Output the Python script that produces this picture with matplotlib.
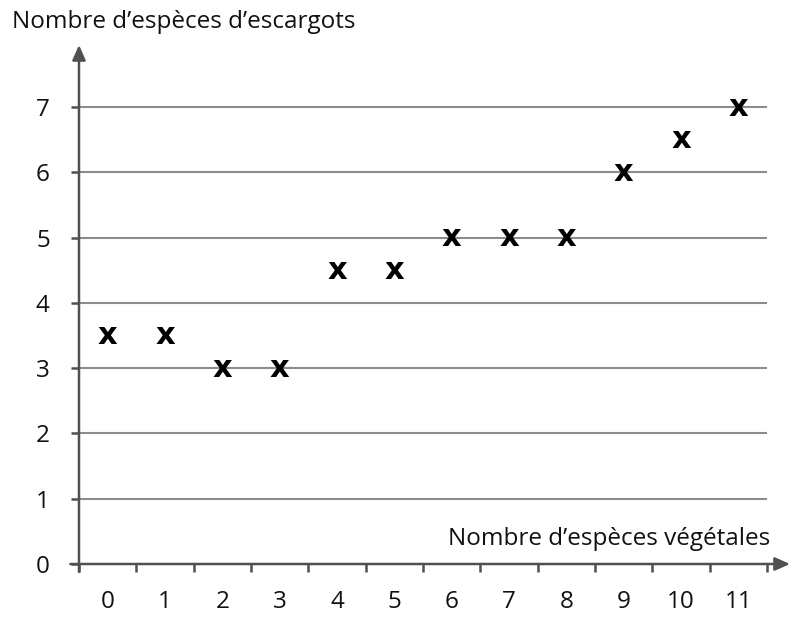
import matplotlib.pyplot as plt
import numpy as np

plt.rcParams['font.family'] = ['Open Sans', 'DejaVu Sans']

# data
vegetal = [0, 1, 2, 3, 4, 5, 6, 7, 8, 9, 10, 11]
escargots = [3.5, 3.5, 3, 3, 4.5, 4.5, 5, 5, 5, 6, 6.5, 7]
y_ticks = [0, 1, 2, 3, 4, 5, 6, 7]

axis_col = '#505050'
grid_col = '#8c8c8c'

fig = plt.figure(figsize=(7.93, 6.23), dpi=100)
ax = fig.add_axes([79 / 793, 59 / 623, (790 - 79) / 793, (564 - 45) / 623])
ax.set_xlim(0, 12.4)
ax.set_ylim(0, 7.95)

for s in ax.spines.values():
    s.set_visible(False)

# horizontal grid lines
ax.hlines(y_ticks[1:], 0, len(vegetal), color=grid_col, lw=1.5, zorder=1)

# axes with arrows
ax.annotate('', xy=(12.4, 0), xytext=(-0.15, 0), xycoords='data',
            arrowprops=dict(arrowstyle='-|>,head_length=0.9,head_width=0.4',
                            color=axis_col, lw=1.8, shrinkA=0, shrinkB=0),
            annotation_clip=False)
ax.annotate('', xy=(0, 7.95), xytext=(0, -0.12), xycoords='data',
            arrowprops=dict(arrowstyle='-|>,head_length=0.9,head_width=0.4',
                            color=axis_col, lw=1.8, shrinkA=0, shrinkB=0),
            annotation_clip=False)

# x ticks: marks between categories, labels centred
ax.set_xticks(np.arange(len(vegetal) + 1))
ax.set_xticklabels([])
ax.set_xticks(np.array(vegetal) + 0.5, minor=True)
ax.set_xticklabels([str(v) for v in vegetal], minor=True)
ax.tick_params(axis='x', which='major', direction='out', length=6,
               width=1.8, color=axis_col)
ax.tick_params(axis='x', which='minor', length=0, pad=19, labelsize=17.5,
               labelcolor='#111111')

ax.set_yticks(y_ticks)
ax.tick_params(axis='y', direction='out', length=6, width=1.8,
               color=axis_col, pad=15, labelsize=17.5, labelcolor='#111111')

# points drawn as bold x letters
for xv, yv in zip(vegetal, escargots):
    ax.text(xv + 0.5, yv, 'x', ha='center', va='center', fontsize=22,
            fontweight='bold', family='DejaVu Sans', color='black', zorder=3)

fig.text(12 / 793, 1 - 22 / 623, 'Nombre d\u2019esp\u00e8ces d\u2019escargots',
         ha='left', va='center', fontsize=17.5, color='#111111')
ax.text(12.05, 0.2, 'Nombre d\u2019esp\u00e8ces v\u00e9g\u00e9tales',
        ha='right', va='bottom', fontsize=17.5, color='#111111')

fig.savefig('out.png', dpi=100, facecolor='white')
